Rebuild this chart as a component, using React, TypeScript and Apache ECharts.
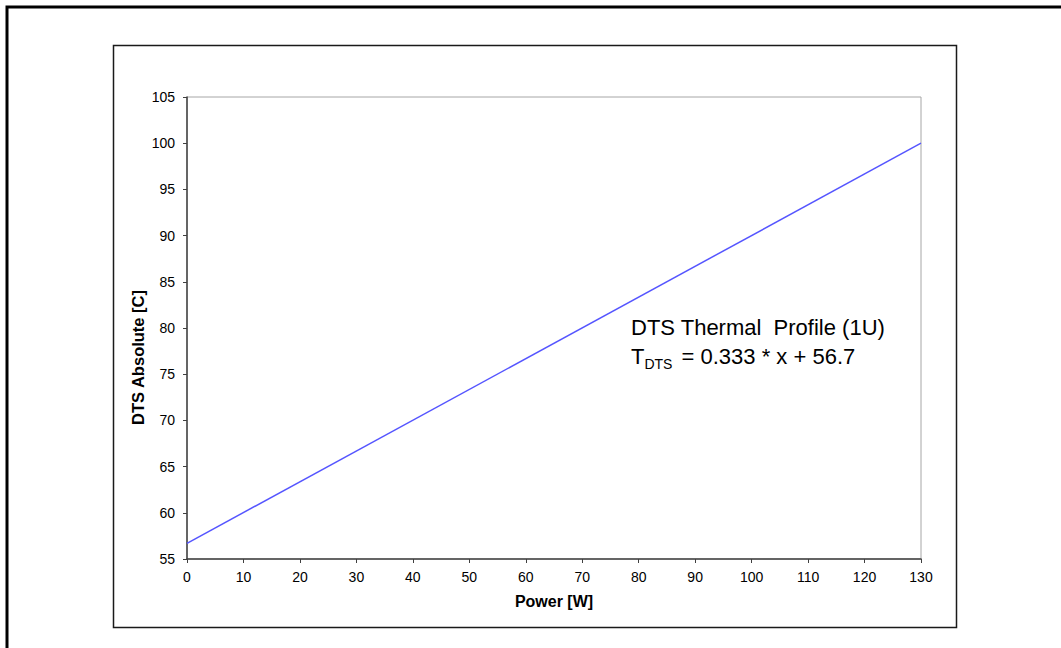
import React, { useEffect, useRef } from "react";
import * as echarts from "echarts";

const powerW: number[] = [0, 130];
const dtsC: number[] = [56.7, 100.0];
const xTicks = { min: 0, max: 130, interval: 10 };
const yTicks = { min: 55, max: 105, interval: 5 };
const xTitle = "Power [W]";
const yTitle = "DTS Absolute [C]";
const noteTitle = "DTS Thermal  Profile (1U)";
const noteEq = " = 0.333 * x + 56.7";

export default function App() {
  const ref = useRef<HTMLDivElement>(null);
  useEffect(() => {
    if (!ref.current) return;
    const chart = echarts.init(ref.current, undefined, { renderer: "svg" });
    const font = "Arial, 'Liberation Sans', sans-serif";
    chart.setOption({
      animation: false,
      backgroundColor: "#ffffff",
      grid: {
        left: 187,
        top: 97,
        width: 734,
        height: 462,
        show: true,
        borderColor: "#a6a6a6",
        borderWidth: 1,
        containLabel: false,
      },
      xAxis: {
        type: "value",
        min: xTicks.min,
        max: xTicks.max,
        interval: xTicks.interval,
        name: xTitle,
        nameLocation: "middle",
        nameGap: 34,
        nameTextStyle: { fontFamily: font, fontSize: 16, fontWeight: "bold", color: "#000" },
        axisLine: { show: true, lineStyle: { color: "#404040", width: 1.5 } },
        axisTick: { show: true, length: 4, lineStyle: { color: "#404040", width: 1 } },
        axisLabel: { margin: 11, fontFamily: font, fontSize: 14, color: "#000" },
        splitLine: { show: false },
      },
      yAxis: {
        type: "value",
        min: yTicks.min,
        max: yTicks.max,
        interval: yTicks.interval,
        axisLine: { show: true, lineStyle: { color: "#404040", width: 1.5 } },
        axisTick: { show: true, length: 4, lineStyle: { color: "#404040", width: 1 } },
        axisLabel: { margin: 12, fontFamily: font, fontSize: 14, color: "#000" },
        splitLine: { show: false },
      },
      series: [
        {
          type: "line",
          data: powerW.map((x, i) => [x, dtsC[i]]),
          showSymbol: false,
          lineStyle: { color: "#5555ff", width: 1.5 },
        },
      ],
      graphic: [
        {
          type: "rect",
          shape: { x: 7, y: 7, width: 1200, height: 800 },
          style: { fill: "none", stroke: "#000", lineWidth: 3 },
          silent: true,
        },
        {
          type: "rect",
          shape: { x: 113.5, y: 45.5, width: 843, height: 582 },
          style: { fill: "none", stroke: "#1a1a1a", lineWidth: 1.5 },
          silent: true,
        },
        {
          type: "text",
          x: 138,
          y: 357.5,
          rotation: Math.PI / 2,
          style: {
            text: yTitle,
            font: `bold 16.5px ${font}`,
            fill: "#000",
            align: "center",
            verticalAlign: "middle",
          },
          silent: true,
        },
        {
          type: "text",
          x: 631,
          y: 316.5,
          style: {
            text: noteTitle,
            font: `22px ${font}`,
            fill: "#000",
          },
          silent: true,
        },
        {
          type: "text",
          x: 631,
          y: 345,
          style: {
            text: `{t|T}{s|DTS}{t|${noteEq}}`,
            rich: {
              t: { fontFamily: font, fontSize: 22, color: "#000", verticalAlign: "bottom" },
              s: { fontFamily: font, fontSize: 14, color: "#000", verticalAlign: "bottom", padding: [0, 3, -4, 0] },
            },
            fill: "#000",
          },
          silent: true,
        },
      ],
    });
    return () => chart.dispose();
  }, []);
  return (
    <div
      ref={ref}
      style={{ position: "fixed", left: 0, top: 0, width: 1061, height: 648, background: "#fff" }}
    />
  );
}
